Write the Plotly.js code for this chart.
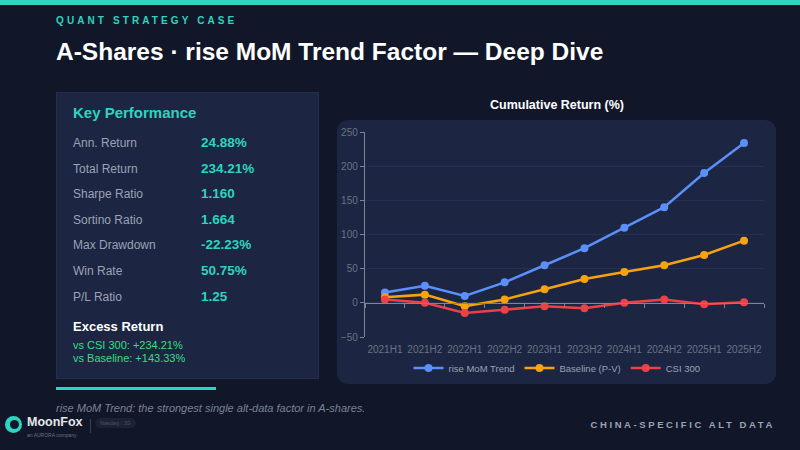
<!DOCTYPE html>
<html>
<head>
<meta charset="utf-8">
<script src="https://cdn.plot.ly/plotly-3.0.1.min.js"></script>
<style>
  html, body { margin:0; padding:0; }
  body { width:800px; height:450px; background:#111729; position:relative; overflow:hidden; font-family: "Liberation Sans", Arial, sans-serif; }
  .topbar { position:absolute; left:0; top:0; width:800px; height:5px; background:#2dd4bf; }
  .kicker { position:absolute; left:56px; top:15px; color:#2dd4bf; font-size:10px; font-weight:bold; letter-spacing:3.1px; }
  .title { position:absolute; left:56px; top:38px; color:#ffffff; font-size:24.5px; font-weight:bold; letter-spacing:0px; }
  .panel { position:absolute; left:56px; top:92px; width:263px; height:287px; background:#1c2542; border:1px solid #242f4d; box-sizing:border-box; }
  .panel .h { position:absolute; left:16px; top:11px; color:#2dd4bf; font-size:15px; font-weight:bold; }
  .row { position:absolute; left:16px; height:16px; width:240px; }
  .row .l { position:absolute; left:0; top:0; color:#9aa3b5; font-size:12px; }
  .row .v { position:absolute; left:128px; top:-1px; color:#2dd4bf; font-size:13.5px; font-weight:bold; }
  .ex { position:absolute; left:16px; top:226px; color:#ffffff; font-size:13px; font-weight:bold; }
  .exl { position:absolute; left:16px; color:#3ddc84; font-size:11px; }
  .accent { position:absolute; left:56px; top:387px; width:160px; height:3px; background:#2dd4bf; }
  .chartpanel { position:absolute; left:337px; top:120px; width:439px; height:264px; background:#1c2542; border-radius:11px; }
  #chart { position:absolute; left:337px; top:90px; width:440px; height:298px; }
  .note { position:absolute; left:56px; top:402px; color:#7a8294; font-size:11px; font-style:italic; }
  .tag { position:absolute; right:25px; top:419px; color:#9aa3b5; font-size:9.5px; font-weight:bold; letter-spacing:2.6px; }
  .logo { position:absolute; left:5px; top:414px; }
  .logo .ic { position:absolute; left:0; top:2px; width:17px; height:17px; border-radius:50%; background:#2dd4bf; }
  .logo .ic2 { position:absolute; left:5px; top:6px; width:9px; height:9px; border-radius:50%; background:#111729; }
  .logo .n { position:absolute; left:22px; top:1px; color:#e5e7eb; font-size:12.5px; font-weight:bold; white-space:nowrap; }
  .logo .s { position:absolute; left:22px; top:18px; color:#6b7280; font-size:5px; white-space:nowrap; }
  .logo .sep { position:absolute; left:85px; top:5px; width:1px; height:14px; background:#374151; }
  .logo .pill { position:absolute; left:90px; top:4px; padding:2px 5px; border-radius:6px; background:#1c2233; color:#4b5563; font-size:5.5px; white-space:nowrap; }
</style>
</head>
<body>
<div class="topbar"></div>
<div class="kicker">QUANT STRATEGY CASE</div>
<div class="title">A-Shares · rise MoM Trend Factor — Deep Dive</div>

<div class="panel" id="panel">
  <div class="h">Key Performance</div>
</div>
<div class="accent"></div>

<div class="chartpanel"></div>
<div id="chart"></div>

<div class="note">rise MoM Trend: the strongest single alt-data factor in A-shares.</div>
<div class="tag">CHINA-SPECIFIC ALT DATA</div>
<div class="logo">
  <div class="ic"></div><div class="ic2"></div>
  <div class="n">MoonFox</div>
  <div class="s">an AURORA company</div>
  <div class="sep"></div>
  <div class="pill">Nasdaq : JG</div>
</div>

<script>
const periods = ["2021H1","2021H2","2022H1","2022H2","2023H1","2023H2","2024H1","2024H2","2025H1","2025H2"];
const riseMoM = [15, 25, 10, 30, 55, 80, 110, 140, 190, 234];
const baseline = [8, 12, -5, 5, 20, 35, 45, 55, 70, 91];
const csi300 = [5, 0, -15, -10, -5, -8, 0, 5, -2, 1];
const seriesNames = ["rise MoM Trend", "Baseline (P-V)", "CSI 300"];
const seriesColors = ["#5b8ff9", "#f6a30f", "#ec4146"];

const metricLabels = ["Ann. Return","Total Return","Sharpe Ratio","Sortino Ratio","Max Drawdown","Win Rate","P/L Ratio"];
const metricValues = ["24.88%","234.21%","1.160","1.664","-22.23%","50.75%","1.25"];
const excessLabels = ["vs CSI 300: +234.21%","vs Baseline: +143.33%"];

// build metrics panel
const panel = document.getElementById('panel');
metricLabels.forEach((lab, i) => {
  const r = document.createElement('div');
  r.className = 'row';
  r.style.top = (43 + i * 25.6) + 'px';
  r.innerHTML = '<span class="l">' + lab + '</span><span class="v">' + metricValues[i] + '</span>';
  panel.appendChild(r);
});
const ex = document.createElement('div'); ex.className = 'ex'; ex.textContent = 'Excess Return'; panel.appendChild(ex);
excessLabels.forEach((t, i) => {
  const d = document.createElement('div'); d.className = 'exl'; d.style.top = (246 + i * 13) + 'px'; d.textContent = t; panel.appendChild(d);
});

const allSeries = [riseMoM, baseline, csi300];
const traces = allSeries.map((ys, i) => ({
  x: periods, y: ys, name: seriesNames[i], type: 'scatter', mode: 'lines+markers',
  line: { color: seriesColors[i], width: 2.5 },
  marker: { color: seriesColors[i], size: 8 },
  xaxis: 'x', yaxis: 'y', hoverinfo: 'skip'
}));
// invisible trace on the zero-axis for ticks
traces.push({ x: periods, y: periods.map(() => null), xaxis: 'x2', yaxis: 'y', showlegend: false, hoverinfo: 'skip', type: 'scatter', mode: 'lines' });

const layout = {
  width: 440, height: 298,
  margin: { l: 28, r: 13, t: 42, b: 51, autoexpand: false },
  paper_bgcolor: 'rgba(0,0,0,0)', plot_bgcolor: 'rgba(0,0,0,0)',
  font: { family: '"Liberation Sans", Arial, sans-serif', color: '#6b7385', size: 10 },
  title: { text: '<b>Cumulative Return (%)</b>', font: { color: '#ffffff', size: 12.5 }, x: 0.5, xanchor: 'center', y: 0.95, yanchor: 'middle', yref: 'container' },
  showlegend: true,
  legend: { orientation: 'h', x: 0.5, xanchor: 'center', xref: 'container', y: 0.067, yanchor: 'middle', yref: 'container', font: { color: '#9aa3b5', size: 9.5 }, itemwidth: 30, tracegroupgap: 0, bgcolor: 'rgba(0,0,0,0)' },
  xaxis: {
    type: 'category', range: [-0.5, 9.5], showgrid: false, zeroline: false, showline: false,
    ticks: '', tickfont: { color: '#6b7385', size: 10 }, ticklabelstandoff: 5, fixedrange: true, automargin: false
  },
  xaxis2: {
    type: 'category', range: [-0.5, 9.5], overlaying: 'x', anchor: 'free',
    position: (50 / 300), showgrid: false, zeroline: false, showline: true, linecolor: '#7c8496', linewidth: 1.2,
    ticks: 'outside', ticklen: 4, tickcolor: '#7c8496', tickson: 'boundaries', showticklabels: false, fixedrange: true, automargin: false
  },
  yaxis: {
    range: [-50, 250], dtick: 50, showgrid: true, gridcolor: '#26304f', gridwidth: 1,
    zeroline: false, showline: true, linecolor: '#7c8496', linewidth: 1.2, ticks: 'outside', ticklen: 4,
    tickcolor: '#7c8496', tickfont: { color: '#6b7385', size: 10 }, fixedrange: true, automargin: false
  }
};

Plotly.newPlot('chart', traces, layout, { displayModeBar: false, staticPlot: true });
</script>
</body>
</html>
